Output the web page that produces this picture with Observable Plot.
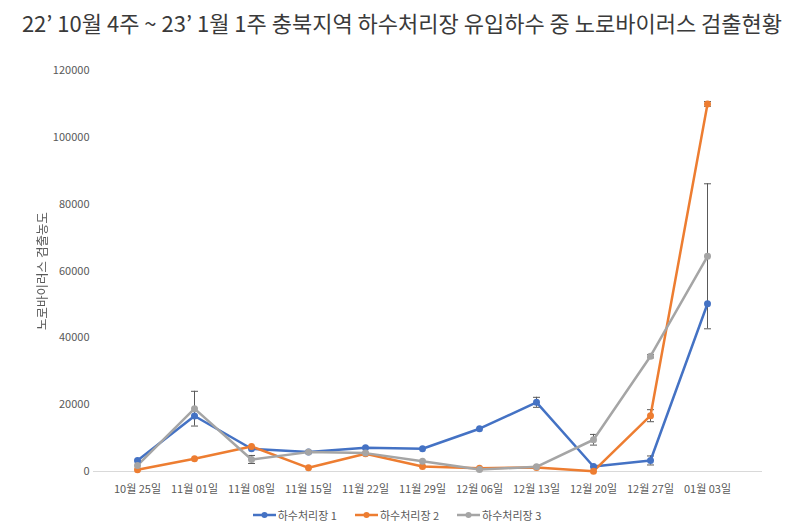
<!DOCTYPE html>
<html><head><meta charset="utf-8">
<script src="https://cdn.jsdelivr.net/npm/d3@7"></script>
<script src="https://cdn.jsdelivr.net/npm/@observablehq/plot@0.6"></script>
<style>
body{margin:0;background:#fff;font-family:"Noto Sans CJK KR","Noto Sans",sans-serif;}
#wrap{width:804px;}
#title{height:44px;line-height:44px;text-align:center;font-size:22px;color:#3a3a3a;white-space:nowrap;}
#legend{display:flex;justify-content:center;gap:18px;height:22px;align-items:center;font-size:11px;color:#595959;padding-right:10px;}
.item{display:flex;align-items:center;gap:2px;}
#chart svg g[aria-label="text"]{filter:grayscale(1);}
</style></head><body>
<div id="wrap"><div id="title"></div><div id="chart"></div><div id="legend"></div></div>
<script>
const title = "22’ 10월 4주 ~ 23’ 1월 1주 충북지역 하수처리장 유입하수 중 노로바이러스 검출현황";
const yLabel = "노로바이러스 검출농도";
const dates = ["10월 25일","11월 01일","11월 08일","11월 15일","11월 22일","11월 29일","12월 06일","12월 13일","12월 20일","12월 27일","01월 03일"];
const seriesNames = ["하수처리장 1","하수처리장 2","하수처리장 3"];
const colors = ["#4472C4","#ED7D31","#A5A5A5"];
const plant1 = [3300,16600,6800,5800,7100,6800,12800,20700,1500,3300,50200];
const plant2 = [500,3800,7500,1100,5300,1500,1000,1200,100,16700,110000];
const plant3 = [1800,18800,3600,5800,5500,3100,600,1400,9500,34500,64400];
const err1 = [0,0,0,0,0,0,0,1500,0,1350,0];
const err2 = [0,0,0,0,0,0,0,0,0,1800,700];
const err3 = [0,5200,1200,0,0,0,0,0,1600,500,21700];
const yTicks = [0,20000,40000,60000,80000,100000,120000];

document.getElementById("title").textContent = title;

const values = [plant1, plant2, plant3];
const errs = [err1, err2, err3];
const rows = seriesNames.flatMap((s, i) => dates.map((d, j) => ({series: s, date: d, value: values[i][j], err: errs[i][j]})));
const errRows = rows.filter(r => r.err > 0).map(r => ({...r, lo: r.value - r.err, hi: r.value + r.err}));
const capRows = errRows.flatMap(r => [{date: r.date, y: r.lo}, {date: r.date, y: r.hi}]);
const cap = {draw(ctx) { ctx.moveTo(-3.5, 0); ctx.lineTo(3.5, 0); }};

const chart = Plot.plot({
  width: 804, height: 460,
  marginTop: 26, marginBottom: 33, marginLeft: 93, marginRight: 42,
  style: {fontFamily: '"Noto Sans CJK KR","Noto Sans",sans-serif', fontSize: "11px", color: "#595959", background: "transparent"},
  x: {type: "point", domain: dates, range: [105, 738], label: null, tickSize: 0, tickPadding: 14},
  y: {domain: [0, 120000], ticks: yTicks, label: null, tickSize: 0, tickPadding: 4, tickFormat: d => String(d)},
  color: {domain: seriesNames, range: colors},
  marks: [
    Plot.ruleY([0], {stroke: "#d9d9d9"}),
    Plot.ruleX(errRows, {x: "date", y1: "lo", y2: "hi", stroke: "#595959", strokeWidth: 1}),
    Plot.dot(capRows, {x: "date", y: "y", symbol: cap, stroke: "#595959", fill: "none", strokeWidth: 1}),
    Plot.line(rows, {x: "date", y: "value", stroke: "series", strokeWidth: 2.5}),
    Plot.dot(rows, {x: "date", y: "value", fill: "series", r: 3.5}),
    Plot.text([yLabel], {frameAnchor: "left", textAnchor: "middle", dx: -51, rotate: -90, fontSize: 12.5, fill: "#595959", text: d => d})
  ]
});
document.getElementById("chart").appendChild(chart);

const legend = document.getElementById("legend");
seriesNames.forEach((s, i) => {
  const item = document.createElement("div");
  item.className = "item";
  item.innerHTML = `<svg width="23" height="10"><line x1="0" y1="5" x2="23" y2="5" stroke="${colors[i]}" stroke-width="2.5"/><circle cx="11.5" cy="5" r="3" fill="${colors[i]}"/></svg><span></span>`;
  item.querySelector("span").textContent = s;
  legend.appendChild(item);
});
</script>
</body></html>
